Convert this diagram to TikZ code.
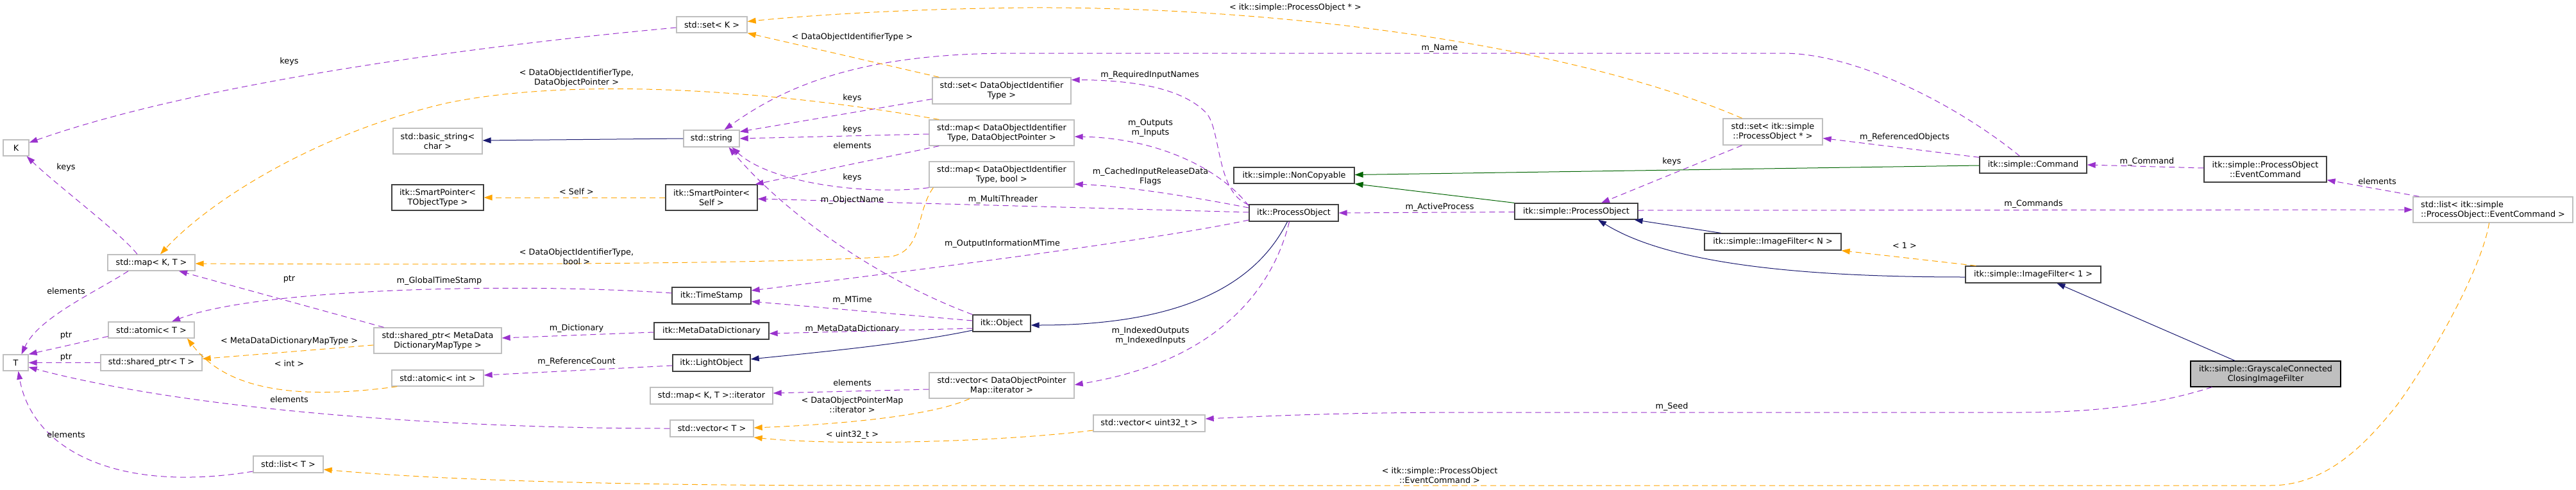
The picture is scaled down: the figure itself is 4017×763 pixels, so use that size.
\documentclass[tikz,border=0pt]{standalone}
\usepackage{fontspec}
\setmainfont{DejaVu Sans}
\usetikzlibrary{arrows.meta}
\definecolor{usecol}{HTML}{9A32CD}
\definecolor{tmplcol}{HTML}{FFA500}
\definecolor{inhcol}{HTML}{191970}
\definecolor{privcol}{HTML}{006400}
\definecolor{lightbd}{HTML}{BFBFBF}
\definecolor{darkbd}{HTML}{404040}
\definecolor{grayfill}{HTML}{BFBFBF}
\begin{document}
\begin{tikzpicture}[x=1pt,y=-1pt,
  font=\fontsize{12.8}{15}\selectfont,
  lbox/.style={draw=lightbd, fill=white, line width=1.3pt, inner sep=0pt, align=center},
  dbox/.style={draw=darkbd, fill=white, line width=1.3pt, inner sep=0pt, align=center},
  hbox/.style={draw=black, fill=grayfill, line width=1.3pt, inner sep=0pt, align=center},
  lab/.style={inner sep=0pt, align=center},
  tip/.style={-{Triangle[length=13pt,width=9pt]}},
  usee/.style={draw=usecol, line width=1pt, dash pattern=on 9pt off 6pt, tip},
  tmpl/.style={draw=tmplcol, line width=1pt, dash pattern=on 9pt off 6pt, tip},
  inh/.style={draw=inhcol, line width=1pt, tip},
  priv/.style={draw=privcol, line width=1pt, tip}]
\fill[white] (0,0) rectangle (4017,763);
\useasboundingbox (0,0) rectangle (4017,763);

% nodes
\node[lbox, minimum width=40pt, minimum height=25pt] (K) at (25,230.5) {K};
\node[lbox, minimum width=110pt, minimum height=25pt] (setK) at (1110,38.5) {std::set< K >};
\node[lbox, minimum width=139pt, minimum height=40pt] (basicstr) at (682.5,220) {std::basic\_string<\\char >};
\node[dbox, minimum width=143pt, minimum height=40pt] (spTObj) at (682.5,308) {itk::SmartPointer<\\TObjectType >};
\node[lbox, minimum width=87pt, minimum height=26pt] (string) at (1109.5,216) {std::string};
\node[dbox, minimum width=143pt, minimum height=40pt] (spSelf) at (1109.5,308) {itk::SmartPointer<\\Self >};
\node[lbox, minimum width=136pt, minimum height=25pt] (mapKT) at (236,409.5) {std::map< K, T >};
\node[lbox, minimum width=134pt, minimum height=25pt] (atomicT) at (236,514.5) {std::atomic< T >};
\node[lbox, minimum width=39pt, minimum height=25pt] (T) at (24.5,565.5) {T};
\node[lbox, minimum width=158pt, minimum height=25pt] (sharedT) at (236,565.5) {std::shared\_ptr< T >};
\node[lbox, minimum width=109pt, minimum height=26pt] (listT) at (449.5,724) {std::list< T >};
\node[lbox, minimum width=199pt, minimum height=40pt] (sharedMeta) at (682.5,531) {std::shared\_ptr< MetaData\\DictionaryMapType >};
\node[lbox, minimum width=143pt, minimum height=25pt] (atomicInt) at (682.5,589.5) {std::atomic< int >};
\node[dbox, minimum width=123pt, minimum height=26pt] (timestamp) at (1109.5,461) {itk::TimeStamp};
\node[dbox, minimum width=179pt, minimum height=26pt] (mdd) at (1109.5,516) {itk::MetaDataDictionary};
\node[dbox, minimum width=121pt, minimum height=26pt] (lightobj) at (1109.5,566) {itk::LightObject};
\node[lbox, minimum width=191pt, minimum height=26pt] (mapiter) at (1109.5,617) {std::map< K, T >::iterator};
\node[lbox, minimum width=130pt, minimum height=26pt] (vectorT) at (1110,668) {std::vector< T >};
\node[lbox, minimum width=216pt, minimum height=41pt] (setDOI) at (1562,141.5) {std::set< DataObjectIdentifier\\Type >};
\node[lbox, minimum width=226pt, minimum height=40pt] (mapDOP) at (1562,207) {std::map< DataObjectIdentifier\\Type, DataObjectPointer >};
\node[lbox, minimum width=226pt, minimum height=40pt] (mapBool) at (1562,272) {std::map< DataObjectIdentifier\\Type, bool >};
\node[dbox, minimum width=90pt, minimum height=26pt] (object) at (1562,504) {itk::Object};
\node[lbox, minimum width=226pt, minimum height=40pt] (vecIter) at (1562,601) {std::vector< DataObjectPointer\\Map::iterator >};
\node[lbox, minimum width=174pt, minimum height=26pt] (vecU32) at (1792,660) {std::vector< uint32\_t >};
\node[dbox, minimum width=139pt, minimum height=26pt] (procobj) at (2017.5,332) {itk::ProcessObject};
\node[dbox, minimum width=188pt, minimum height=25pt] (noncopy) at (2018,273.5) {itk::simple::NonCopyable};
\node[dbox, minimum width=192pt, minimum height=25pt] (sPO) at (2458,329.5) {itk::simple::ProcessObject};
\node[lbox, minimum width=155pt, minimum height=41pt] (setPO) at (2764.5,205.5) {std::set< itk::simple\\::ProcessObject * >};
\node[dbox, minimum width=213pt, minimum height=26pt] (imgN) at (2764.5,377) {itk::simple::ImageFilter< N >};
\node[dbox, minimum width=167pt, minimum height=26pt] (command) at (3170.5,257) {itk::simple::Command};
\node[dbox, minimum width=211pt, minimum height=26pt] (img1) at (3170.5,428) {itk::simple::ImageFilter< 1 >};
\node[dbox, minimum width=191pt, minimum height=40pt] (evcmd) at (3532.5,264) {itk::simple::ProcessObject\\::EventCommand};
\node[lbox, minimum width=249pt, minimum height=40pt, align=left] (listEC) at (3887.5,327) {std::list< itk::simple\\::ProcessObject::EventCommand >};
\node[hbox, minimum width=234pt, minimum height=40pt] (gray) at (3533,583) {itk::simple::GrayscaleConnected\\ClosingImageFilter};

% usage edges (purple)
\draw[usee] ([yshift=-4.5pt]setK.west) .. controls (600,85) and (250,150) .. ([yshift=-5pt]K.north east);
\draw[usee] ([xshift=-22pt]mapKT.north) .. controls (190,365) and (90,290) .. ([xshift=-4pt]K.south east);
\draw[usee] ([xshift=-36pt]mapKT.south) .. controls (150,455) and (60,495) .. ([xshift=9pt]T.north);
\draw[usee] ([yshift=-10pt]atomicT.west) -- (T.north east);
\draw[usee] (sharedT.west) -- (T.east);
\draw[usee] (vectorT.west) .. controls (700,668) and (300,640) .. ([yshift=-7pt]T.east);
\draw[usee] ([yshift=-11pt]listT.west) .. controls (180,770) and (50,700) .. ([xshift=4pt]T.south);
\draw[usee] ([xshift=-84pt]sharedMeta.north) -- ([xshift=43pt]mapKT.south);
\draw[usee] ([yshift=4pt]timestamp.west) .. controls (800,440) and (400,450) .. ([xshift=32pt]atomicT.north);
\draw[usee] ([yshift=-2pt]mdd.west) -- ([yshift=4pt]sharedMeta.east);
\draw[usee] ([yshift=-4pt]lightobj.west) -- ([yshift=4.5pt]atomicInt.east);
\draw[usee] ([yshift=-13pt]setDOI.west) -- ([yshift=-3pt]string.north east);
\draw[usee] ([yshift=-2pt]mapDOP.west) -- (string.east);
\draw[usee] (mapBool.south west) .. controls (1350,305) and (1200,285) .. ([xshift=32pt]string.south);
\draw[usee] (object.north west) .. controls (1380,440) and (1230,340) .. ([xshift=27pt]string.south);
\draw[usee] ([xshift=-21pt]command.north) .. controls (3060,170) and (2900,83) .. (2780,83) -- (1580,83) .. controls (1350,83) and (1230,130) .. ([xshift=20pt]string.north);
\draw[usee] ([xshift=16pt]mapDOP.south west) -- ([xshift=-4pt]spSelf.north east);
\draw[usee] ([yshift=1pt]procobj.west) -- ([yshift=-2pt]spSelf.east);
\draw[usee] ([yshift=-1pt]procobj.north west) .. controls (1895,300) and (1905,200) .. (1880,175) .. controls (1840,135) and (1760,125) .. ([yshift=17pt]setDOI.east);
\draw[usee] ([yshift=11pt]procobj.west) .. controls (1900,260) and (1800,215) .. ([yshift=-6pt]mapDOP.east);
\draw[usee] ([yshift=8pt]procobj.west) .. controls (1850,305) and (1750,290) .. ([yshift=-15pt]mapBool.east);
\draw[usee] ([yshift=-11pt]procobj.west) .. controls (1800,375) and (1400,425) .. ([yshift=8pt]timestamp.east);
\draw[usee] ([yshift=4pt]object.west) -- ([yshift=-9pt]timestamp.east);
\draw[usee] ([yshift=-8pt]object.west) -- ([yshift=-4pt]mdd.east);
\draw[usee] ([xshift=-7pt]procobj.south) .. controls (1990,430) and (1920,560) .. ([yshift=1pt]vecIter.east);
\draw[usee] ([yshift=-6pt]vecIter.west) -- ([yshift=4pt]mapiter.east);
\draw[usee] ([xshift=34pt]gray.south west) .. controls (3350,635) and (3250,643) .. (3150,643) -- (2300,643) .. controls (2100,643) and (1990,648) .. ([yshift=7pt]vecU32.east);
\draw[usee] ([yshift=-1pt]sPO.west) -- (procobj.east);
\draw[usee] ([yshift=1.5pt]sPO.east) -- (listEC.west);
\draw[usee] ([xshift=10pt]listEC.north west) -- ([yshift=4pt]evcmd.south east);
\draw[usee] ([yshift=2pt]evcmd.west) -- (command.east);
\draw[usee] ([yshift=-2pt]command.north west) -- ([yshift=-10pt]setPO.east);
\draw[usee] ([xshift=-48pt]setPO.south) -- ([xshift=39pt]sPO.north);

% inheritance (navy)
\draw[inh] (string.west) -- ([yshift=1pt]basicstr.east);
\draw[inh] ([yshift=-11pt]object.west) .. controls (1420,535) and (1300,547) .. ([yshift=6pt]lightobj.east);
\draw[inh] ([xshift=-10pt]procobj.south) .. controls (1960,440) and (1850,507) .. ([yshift=-3pt]object.east);
\draw[inh] ([xshift=-81pt]imgN.north) -- ([xshift=-6pt]sPO.south east);
\draw[inh] ([yshift=-4pt]img1.west) .. controls (2800,432) and (2600,410) .. ([xshift=34pt]sPO.south);
\draw[inh] ([xshift=-48pt]gray.north) -- ([xshift=37pt]img1.south);

% private inheritance (green)
\draw[priv] ([yshift=-1pt]command.west) -- ([yshift=1pt]noncopy.east);
\draw[priv] (sPO.north west) -- (noncopy.south east);

% template instances (orange)
\draw[tmpl] (spSelf.west) -- (spTObj.east);
\draw[tmpl] ([xshift=11pt]setDOI.north west) -- (setK.south east);
\draw[tmpl] ([xshift=-48pt]setPO.north) .. controls (2450,70) and (2000,10) .. (1600,12) .. controls (1400,14) and (1250,25) .. ([yshift=5pt]setK.east);
\draw[tmpl] ([xshift=16pt]mapDOP.north west) .. controls (1200,140) and (900,120) .. (700,160) .. controls (500,205) and (330,310) .. ([xshift=14pt]mapKT.north);
\draw[tmpl] ([xshift=7pt]mapBool.south west) .. controls (1428,330) and (1440,390) .. (1390,400) .. controls (1200,412) and (700,413) .. ([yshift=-1.5pt]mapKT.east);
\draw[tmpl] ([yshift=-7pt]sharedMeta.west) -- ([yshift=6pt]sharedT.east);
\draw[tmpl] ([xshift=9pt]atomicInt.south west) .. controls (420,630) and (340,590) .. ([xshift=56pt]atomicT.south);
\draw[tmpl] ([xshift=-50pt]vecIter.south) .. controls (1450,650) and (1300,662) .. ([yshift=1pt]vectorT.east);
\draw[tmpl] ([yshift=-11pt]vecU32.west) .. controls (1550,690) and (1300,695) .. ([yshift=-14pt]vectorT.east);
\draw[tmpl] ([xshift=17pt]img1.north west) -- (imgN.south east);
\draw[tmpl] ([xshift=-6pt]listEC.south) .. controls (3870,420) and (3790,560) .. (3739,630) .. controls (3680,705) and (3620,757) .. (3540,757) -- (1350,757) .. controls (1000,757) and (700,750) .. ([yshift=-8pt]listT.east);

% labels
\node[lab] (l01) at (451,96) {keys};
\node[lab] (l02) at (103,261) {keys};
\node[lab] (l03) at (103,454) {elements};
\node[lab] (l04) at (103,523) {ptr};
\node[lab] (l05) at (103,557) {ptr};
\node[lab] (l06) at (103,678) {elements};
\node[lab] (l07) at (451,435) {ptr};
\node[lab] (l08) at (685,438) {m\_GlobalTimeStamp};
\node[lab] (l09) at (451,532) {< MetaDataDictionaryMapType >};
\node[lab] (l10) at (451,567) {< int >};
\node[lab] (l11) at (451,623) {elements};
\node[lab] (l12) at (899,121) {< DataObjectIdentifierType,\\DataObjectPointer >};
\node[lab] (l13) at (899,299) {< Self >};
\node[lab] (l14) at (899,400) {< DataObjectIdentifierType,\\bool >};
\node[lab] (l15) at (899,512) {m\_Dictionary};
\node[lab] (l16) at (899,564) {m\_ReferenceCount};
\node[lab] (l17) at (1329,58) {< DataObjectIdentifierType >};
\node[lab] (l18) at (1329,153) {keys};
\node[lab] (l19) at (1329,202) {keys};
\node[lab] (l20) at (1329,227) {elements};
\node[lab] (l21) at (1329,277) {keys};
\node[lab] (l22) at (1329,312) {m\_ObjectName};
\node[lab] (l23) at (1329,468) {m\_MTime};
\node[lab] (l24) at (1329,513) {m\_MetaDataDictionary};
\node[lab] (l25) at (1329,597) {elements};
\node[lab] (l26) at (1329,631) {< DataObjectPointerMap\\::iterator >};
\node[lab] (l27) at (1329,678) {< uint32\_t >};
\node[lab] (l28) at (1564,311) {m\_MultiThreader};
\node[lab] (l29) at (1563,380) {m\_OutputInformationMTime};
\node[lab] (l30) at (1793,117) {m\_RequiredInputNames};
\node[lab] (l31) at (1794,200) {m\_Outputs\\m\_Inputs};
\node[lab] (l32) at (1794,275) {m\_CachedInputReleaseData\\Flags};
\node[lab] (l33) at (1794,524) {m\_IndexedOutputs\\m\_IndexedInputs};
\node[lab] (l34) at (2020,12) {< itk::simple::ProcessObject * >};
\node[lab] (l35) at (2245,75) {m\_Name};
\node[lab] (l36) at (2245,323) {m\_ActiveProcess};
\node[lab] (l37) at (2245,741) {< itk::simple::ProcessObject\\::EventCommand >};
\node[lab] (l38) at (2607,252) {keys};
\node[lab] (l39) at (2607,634) {m\_Seed};
\node[lab] (l40) at (2970,214) {m\_ReferencedObjects};
\node[lab] (l41) at (3171,318) {m\_Commands};
\node[lab] (l42) at (2970,383) {< 1 >};
\node[lab] (l43) at (3348,252) {m\_Command};
\node[lab] (l44) at (3707,283) {elements};
\end{tikzpicture}
\end{document}
